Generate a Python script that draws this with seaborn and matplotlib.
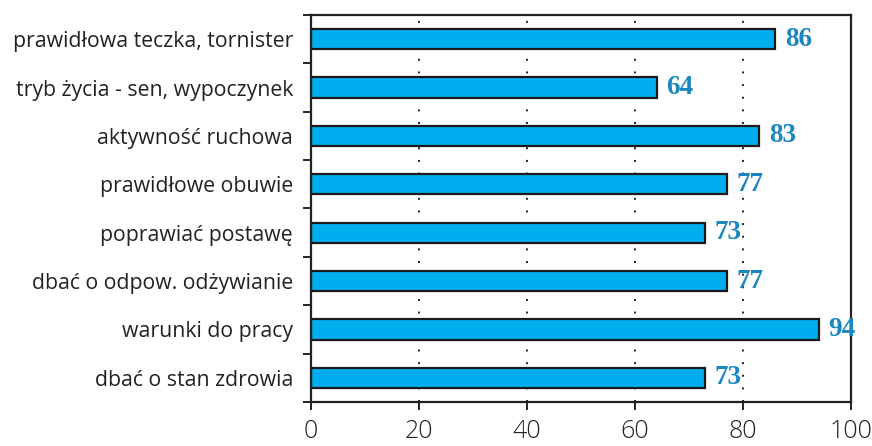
import matplotlib
matplotlib.use("Agg")
import matplotlib.pyplot as plt
from matplotlib.ticker import FixedLocator
import seaborn as sns
import pandas as pd

categories = [
    "prawidłowa teczka, tornister",
    "tryb życia - sen, wypoczynek",
    "aktywność ruchowa",
    "prawidłowe obuwie",
    "poprawiać postawę",
    "dbać o odpow. odżywianie",
    "warunki do pracy",
    "dbać o stan zdrowia",
]
values = [86, 64, 83, 77, 73, 77, 94, 73]
x_ticks = [0, 20, 40, 60, 80, 100]

sns.set_style("ticks")
plt.rcParams["font.family"] = ["Open Sans", "DejaVu Sans"]

df = pd.DataFrame({"kategoria": categories, "wartosc": values})

fig = plt.figure(figsize=(8.72, 4.46), dpi=100)
ax = fig.add_axes([0.3567, 0.0987, 0.6193, 0.8677])

sns.barplot(data=df, x="wartosc", y="kategoria", orient="h", color="#00AEEF",
            saturation=1, width=0.42, edgecolor="#1a1a1a", linewidth=1.6, ax=ax)

ax.set_xlim(0, 100)
ax.set_ylim(7.5, -0.5)
ax.set_xlabel("")
ax.set_ylabel("")

# dotted vertical guides
for gx in x_ticks[1:-1]:
    ax.axvline(gx, color="#222222", linewidth=1.4, linestyle=(0, (1, 5.5)), zorder=0)

for sp in ax.spines.values():
    sp.set_linewidth(1.6)
    sp.set_color("#222222")
    sp.set_visible(True)

ax.set_xticks(x_ticks)
ax.set_xticklabels([str(t) for t in x_ticks], fontsize=18, color="#222222",
                   fontweight="light")
ax.tick_params(axis="x", length=6, width=1.4, pad=6, colors="#222222")

ax.set_yticks(range(len(categories)))
ax.set_yticklabels(categories, fontsize=15.3, color="#222222")
ax.tick_params(axis="y", which="major", length=0, pad=13)
ax.yaxis.set_minor_locator(FixedLocator([i - 0.5 for i in range(len(categories) + 1)]))
ax.tick_params(axis="y", which="minor", length=6, width=1.4, colors="#222222")

for i, v in enumerate(values):
    ax.text(v + 1.8, i, str(v), va="center", ha="left", fontsize=19.5,
            fontweight="bold", color="#1A87C0", family=["Liberation Serif", "DejaVu Serif"])

fig.savefig("out.png", dpi=100)
